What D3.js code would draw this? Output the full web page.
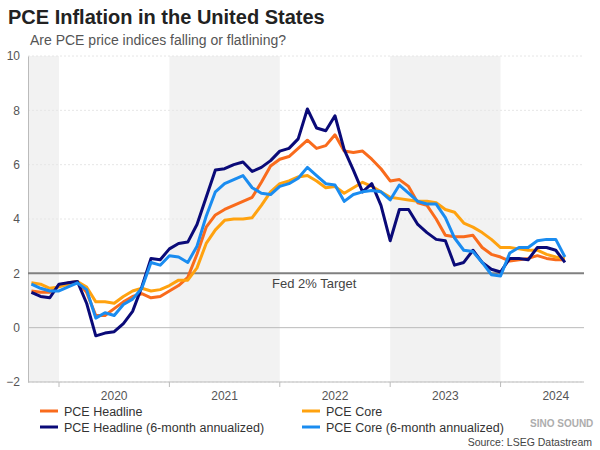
<!DOCTYPE html>
<html><head><meta charset="utf-8">
<script src="https://cdn.jsdelivr.net/npm/d3@7"></script>
<style>body{margin:0;background:#fff}text{font-family:Arial,"Liberation Sans",sans-serif}</style>
</head><body><svg id="c" width="600" height="450"></svg>
<script>
// months since Jan 2020, Oct 2019 .. Aug 2024
const startMonth = -3;
const years = [2020, 2021, 2022, 2023, 2024];
const yTicks = [-2, 0, 2, 4, 6, 8, 10];
const pceHeadline = [1.35,1.3,1.3,1.55,1.65,1.7,1.3,0.45,0.45,0.7,0.95,1.15,1.25,1.1,1.15,1.35,1.55,1.85,2.7,3.7,4.15,4.35,4.5,4.65,4.8,5.35,5.95,6.2,6.3,6.6,
 6.9,6.6,6.7,7.1,6.5,6.45,6.5,6.2,5.85,5.4,5.45,5.2,4.6,4.5,4.0,3.4,3.35,3.35,3.4,2.95,2.7,2.6,2.45,2.5,2.55,2.65,2.55,2.5,2.5];
const pceCore = [1.65,1.6,1.45,1.5,1.6,1.7,1.5,0.95,0.95,0.9,1.15,1.35,1.45,1.35,1.4,1.55,1.75,1.75,2.2,3.1,3.6,3.95,4.0,4.0,4.05,4.5,5.0,5.3,5.4,5.55,
 5.6,5.4,5.15,5.2,4.95,5.15,5.35,5.2,5.0,4.8,4.75,4.7,4.65,4.65,4.6,4.35,4.25,3.85,3.7,3.5,3.25,2.95,2.95,2.9,2.85,2.85,2.7,2.6,2.55];
const pceHeadline6m = [1.3,1.15,1.1,1.6,1.65,1.7,0.9,-0.3,-0.2,-0.15,0.15,0.6,1.5,2.55,2.5,2.9,3.1,3.15,3.8,4.8,5.8,5.85,6.0,6.1,5.75,5.9,6.15,6.5,6.6,6.95,
 8.05,7.35,7.25,7.8,6.55,5.8,5.0,5.3,4.5,3.2,4.35,4.35,3.8,3.5,3.25,3.2,2.3,2.4,2.85,2.4,2.15,2.05,2.55,2.55,2.5,2.95,2.95,2.85,2.4];
const pceCore6m = [1.6,1.45,1.35,1.35,1.5,1.65,1.4,0.35,0.55,0.45,0.85,1.05,1.45,2.4,2.3,2.65,2.6,2.4,3.0,4.1,5.0,5.3,5.45,5.6,5.15,4.95,4.9,5.2,5.3,5.5,
 5.9,5.6,5.3,5.25,4.65,4.9,5.0,5.05,5.0,4.7,5.25,4.95,4.65,4.55,4.55,4.05,3.3,2.85,2.8,2.4,1.95,1.9,2.75,2.95,2.95,3.2,3.25,3.25,2.6];

const series = [
 {name:"PCE Headline", data:pceHeadline, color:"#f96b1c"},
 {name:"PCE Core", data:pceCore, color:"#ffa20f"},
 {name:"PCE Headline (6-month annualized)", data:pceHeadline6m, color:"#0a0a78"},
 {name:"PCE Core (6-month annualized)", data:pceCore6m, color:"#1a8cf0"}
];
const svg = d3.select("#c");
const L=28,R=584,T=56,B=382;
const x = d3.scaleLinear().domain([-3.37,57.07]).range([L,R]);
const y = d3.scaleLinear().domain([-2,10]).range([B,T]);

// shaded bands
[[-3.37,0],[12,24],[36,48]].forEach(b=>svg.append("rect").attr("x",x(b[0])).attr("width",x(b[1])-x(b[0]))
  .attr("y",T).attr("height",B-T).attr("fill","#f2f2f2"));
// grid
yTicks.forEach(t=>{
  svg.append("line").attr("x1",L).attr("x2",R).attr("y1",y(t)).attr("y2",y(t))
   .attr("stroke", t===0?"#bbb":(t===2?"none":"#e6e6e6")).attr("stroke-dasharray", t===0?null:"2,2");
});
const ya = svg.append("g").attr("transform",`translate(${L},0)`).call(d3.axisLeft(y).tickValues(yTicks).tickSize(0).tickPadding(8));
ya.select(".domain").attr("stroke","#bbb");
ya.selectAll("text").attr("font-size",12).attr("fill","#555");
svg.append("line").attr("x1",L).attr("x2",R).attr("y1",B).attr("y2",B).attr("stroke","#bbb");
years.forEach(yr=>{
  const m=(yr-2020)*12;
  svg.append("line").attr("x1",x(m)).attr("x2",x(m)).attr("y1",B).attr("y2",B+5).attr("stroke","#bbb");
  svg.append("text").attr("x",x(m+6)).attr("y",B+18).attr("text-anchor","middle").attr("font-size",12).attr("fill","#555").text(yr);
});
// Fed target
svg.append("line").attr("x1",L).attr("x2",R).attr("y1",y(2)).attr("y2",y(2)).attr("stroke","#808080").attr("stroke-width",2);
svg.append("text").attr("x",272).attr("y",y(2)+15).attr("font-size",13).attr("fill","#444").text("Fed 2% Target");

const line = d3.line().x((d,i)=>x(startMonth+i)).y(d=>y(d));
series.forEach(s=>svg.append("path").attr("d",line(s.data)).attr("fill","none").attr("stroke",s.color).attr("stroke-width",3).attr("stroke-linejoin","round"));

svg.append("text").attr("x",8).attr("y",24).attr("font-size",20).attr("font-weight","bold").attr("fill","#222").text("PCE Inflation in the United States");
svg.append("text").attr("x",30).attr("y",45).attr("font-size",14).attr("fill","#555").text("Are PCE price indices falling or flatlining?");

const pos=[[40,411],[302,411],[40,427],[302,427]];
series.forEach((s,i)=>{
  const [lx,ly]=pos[i];
  svg.append("line").attr("x1",lx).attr("x2",lx+18).attr("y1",ly).attr("y2",ly).attr("stroke",s.color).attr("stroke-width",3);
  svg.append("text").attr("x",lx+24).attr("y",ly+4.5).attr("font-size",12.5).attr("fill","#333").text(s.name);
});
svg.append("text").attr("x",592).attr("y",446).attr("text-anchor","end").attr("font-size",10.5).attr("fill","#444").text("Source: LSEG Datastream");
svg.append("text").attr("x",530).attr("y",427).attr("font-size",10).attr("font-weight","bold").attr("fill","#999").attr("opacity",0.8).text("SINO SOUND");
</script></body></html>
